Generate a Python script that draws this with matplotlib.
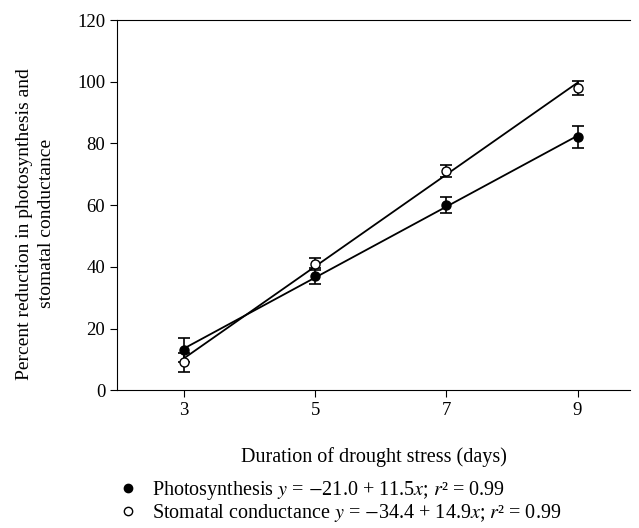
import numpy as np
import matplotlib
matplotlib.use('Agg')
import matplotlib.pyplot as plt
from matplotlib.lines import Line2D

plt.rcParams['font.family'] = 'Liberation Serif'
plt.rcParams['mathtext.fontset'] = 'stix'

# Dados
days = [3, 5, 7, 9]
photo = [13.0, 37.0, 60.0, 82.0]
photo_err = [4.0, 2.5, 2.5, 3.5]
stoma = [9.0, 41.0, 71.0, 98.0]
stoma_err = [3.0, 2.0, 2.0, 2.3]

# Coeficientes das regressões (intercepto, inclinação)
photo_fit = (-21.0, 11.5)
stoma_fit = (-34.4, 14.9)

fig = plt.figure(figsize=(6.39, 5.28), dpi=100)
ax = fig.add_axes([0.183, 0.261, 0.803, 0.701])

# Retas de regressão
xf = np.array([days[0], days[-1]])
ax.plot(xf, photo_fit[0] + photo_fit[1] * xf, color='black', lw=1.3, zorder=2)
ax.plot(xf, stoma_fit[0] + stoma_fit[1] * xf, color='black', lw=1.3, zorder=2)

ax.errorbar(days, photo, yerr=photo_err, fmt='o', color='black', mfc='black',
            ms=6.5, capsize=4, elinewidth=1.2, capthick=1.2, zorder=3)
ax.errorbar(days, stoma, yerr=stoma_err, fmt='o', color='black', mfc='white',
            ms=6.5, capsize=4, elinewidth=1.2, capthick=1.2, zorder=4)

ax.set_xlim(1.98, 9.8)
ax.set_ylim(0, 120)
ax.set_xticks(days)
ax.set_yticks(range(0, 121, 20))
ax.spines['right'].set_visible(False)
ax.tick_params(direction='out', length=5, labelsize=13.5)
ax.set_xlabel('Duration of drought stress (days)', fontsize=14.5)
ax.set_ylabel('Percent reduction in photosynthesis and\nstomatal conductance',
              fontsize=14, linespacing=1.45)
ax.xaxis.set_label_coords(0.5, -0.155)
ax.yaxis.set_label_coords(-0.12, 0.45)

handles = [
    Line2D([], [], marker='o', ls='none', color='black', mfc='black', ms=6),
    Line2D([], [], marker='o', ls='none', color='black', mfc='white', ms=6),
]
labels = [
    r'Photosynthesis $y$ = $-$21.0 + 11.5$x$; $r$² = 0.99',
    r'Stomatal conductance $y$ = $-$34.4 + 14.9$x$; $r$² = 0.99',
]
fig.legend(handles, labels, loc='upper left', bbox_to_anchor=(0.172, 0.108),
           frameon=False, fontsize=14.5, handletextpad=0.7, labelspacing=0.0,
           handlelength=1.0, borderaxespad=0)

fig.savefig('out.png', dpi=100)
